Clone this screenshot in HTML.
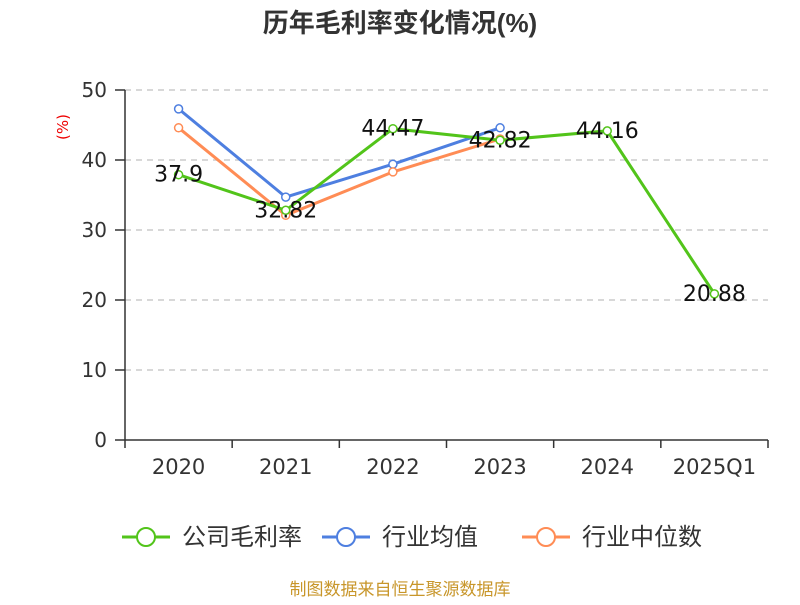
<!DOCTYPE html>
<html><head><meta charset="utf-8"><style>
body{margin:0;background:#fff;}
svg text{font-family:"DejaVu Sans","Noto Sans CJK SC",sans-serif;}
</style></head><body>
<svg width="800" height="600">
<text x="400" y="32" text-anchor="middle" font-size="26" font-weight="bold" fill="#333" style="font-family:'Liberation Sans','Noto Sans CJK SC',sans-serif">历年毛利率变化情况(%)</text>
<text transform="translate(68,127) rotate(-90)" text-anchor="middle" font-size="15" fill="#e00">(%)</text>
<g id="grid"></g><g id="axes"></g><g id="series"></g>
<g>
 <g><line x1="122" y1="537" x2="170" y2="537" stroke="#52c41a" stroke-width="3"/><circle cx="146" cy="537" r="9" fill="#fff" stroke="#52c41a" stroke-width="2"/><text x="182" y="545" font-size="24" fill="#333">公司毛利率</text></g>
 <g><line x1="322" y1="537" x2="370" y2="537" stroke="#4e7fe0" stroke-width="3"/><circle cx="346" cy="537" r="9" fill="#fff" stroke="#4e7fe0" stroke-width="2"/><text x="382" y="545" font-size="24" fill="#333">行业均值</text></g>
 <g><line x1="522" y1="537" x2="570" y2="537" stroke="#ff8c55" stroke-width="3"/><circle cx="546" cy="537" r="9" fill="#fff" stroke="#ff8c55" stroke-width="2"/><text x="582" y="545" font-size="24" fill="#333">行业中位数</text></g>
</g>
<text x="400" y="595" text-anchor="middle" font-size="17" fill="#c8962a">制图数据来自恒生聚源数据库</text>
</svg>
<script>
const categories=["2020","2021","2022","2023","2024","2025Q1"];
const companyValues=[37.9,32.82,44.47,42.82,44.16,20.88];
const industryAvg=[47.3,34.7,39.4,44.6];
const industryMedian=[44.6,32.1,38.3,43.0];
const yTicks=[0,10,20,30,40,50];
const NS="http://www.w3.org/2000/svg";
const x0=125,x1=768,yB=440,yT=90,yMax=50;
const bw=(x1-x0)/categories.length;
const xs=i=>x0+bw*(i+0.5);
const ys=v=>yB-(v/yMax)*(yB-yT);
function mk(t,a,p){const e=document.createElementNS(NS,t);for(const k in a)e.setAttribute(k,a[k]);p.appendChild(e);return e;}
const grid=document.getElementById('grid'),axes=document.getElementById('axes'),ser=document.getElementById('series');
yTicks.forEach(v=>{
 if(v>0){const g=mk('line',{x1:x0,x2:x1,y1:ys(v),y2:ys(v),stroke:'#ccc','stroke-dasharray':'6,5','stroke-width':1.5},grid);
 
 }
 const tk=mk('line',{x1:x0-10,x2:x0,y1:ys(v),y2:ys(v),stroke:'#333','stroke-width':1.5},axes);
 
 
 const t=mk('text',{x:x0-18,y:ys(v)+7,'text-anchor':'end','font-size':20,fill:'#333'},axes);t.textContent=v;
 
 
});
const ya=mk('line',{x1:x0,x2:x0,y1:yT,y2:yB,stroke:'#333','stroke-width':1.5},axes);


const xa=mk('line',{x1:x0,x2:x1,y1:yB,y2:yB,stroke:'#333','stroke-width':1.5},axes);


for(let i=0;i<=categories.length;i++){const l=mk('line',{x1:x0+bw*i,x2:x0+bw*i,y1:yB,y2:yB+8,stroke:'#333','stroke-width':1.5},axes);
 
 }
categories.forEach((c,i)=>{const t=mk('text',{x:xs(i),y:yB+34,'text-anchor':'middle','font-size':21,fill:'#333'},axes);t.textContent=c;
 
 });
function line(vals,color,name){
 const g=mk('g',{},ser);
 
 
 mk('polyline',{points:vals.map((v,i)=>xs(i)+','+ys(v)).join(' '),fill:'none',stroke:color,'stroke-width':3},g);
 vals.forEach((v,i)=>{const c=mk('circle',{cx:xs(i),cy:ys(v),r:4,fill:'#fff',stroke:color,'stroke-width':1.5},g);
  
  });
 return g;
}
line(industryAvg,'#4e7fe0','industry-avg-line');
line(industryMedian,'#ff8c55','industry-median-line');
const cg=line(companyValues,'#52c41a','company-margin-line');
companyValues.forEach((v,i)=>{const t=mk('text',{x:xs(i),y:ys(v)+7,'text-anchor':'middle','font-size':22,fill:'#111'},cg);t.textContent=v;
 
 });
</script>
</body></html>
